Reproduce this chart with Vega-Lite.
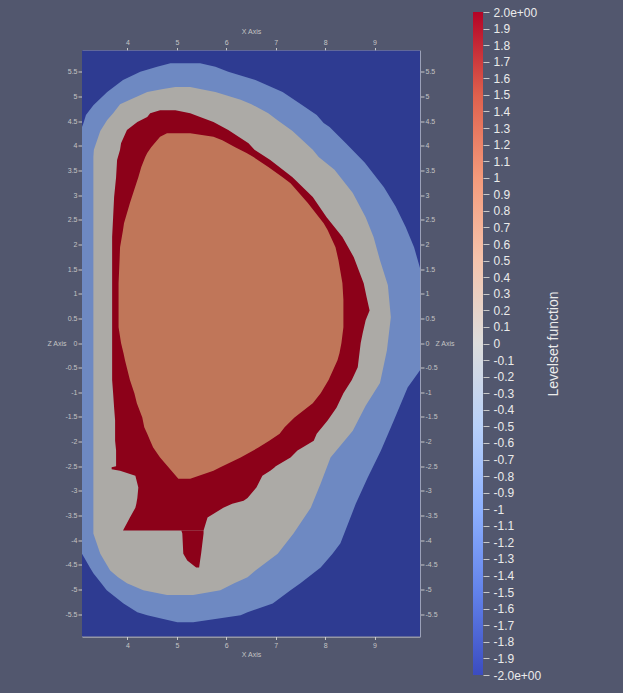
{
  "$schema": "https://vega.github.io/schema/vega-lite/v6.json",
  "background": "#52576e",
  "padding": {"left": 46, "top": 6, "right": 62, "bottom": 12},
  "center": true,
  "bounds": "flush",
  "spacing": 53,
  "config": {"view": {"stroke": null}, "font": "Liberation Sans"},
  "hconcat": [
    {
      "width": 338,
      "height": 586,
      "data": {"values": [
        {"piece": "bg", "level": -2, "z": 5.93, "xl": 3.08, "xr": 9.92},
        {"piece": "bg", "level": -2, "z": -5.95, "xl": 3.08, "xr": 9.92},

        {"piece": "LB", "level": -1, "z": 5.67, "xl": 4.87, "xr": 5.47},
        {"piece": "LB", "level": -1, "z": 5.60, "xl": 4.60, "xr": 5.78},
        {"piece": "LB", "level": -1, "z": 5.50, "xl": 4.26, "xr": 6.04},
        {"piece": "LB", "level": -1, "z": 5.33, "xl": 3.91, "xr": 6.59},
        {"piece": "LB", "level": -1, "z": 5.09, "xl": 3.59, "xr": 7.14},
        {"piece": "LB", "level": -1, "z": 4.82, "xl": 3.31, "xr": 7.54},
        {"piece": "LB", "level": -1, "z": 4.62, "xl": 3.16, "xr": 7.83},
        {"piece": "LB", "level": -1, "z": 4.46, "xl": 3.11, "xr": 7.97},
        {"piece": "LB", "level": -1, "z": 4.38, "xl": 3.08, "xr": 8.09},
        {"piece": "LB", "level": -1, "z": 4.05, "xl": 3.08, "xr": 8.42},
        {"piece": "LB", "level": -1, "z": 3.66, "xl": 3.08, "xr": 8.80},
        {"piece": "LB", "level": -1, "z": 3.16, "xl": 3.08, "xr": 9.19},
        {"piece": "LB", "level": -1, "z": 2.76, "xl": 3.08, "xr": 9.43},
        {"piece": "LB", "level": -1, "z": 2.35, "xl": 3.08, "xr": 9.63},
        {"piece": "LB", "level": -1, "z": 1.94, "xl": 3.08, "xr": 9.80},
        {"piece": "LB", "level": -1, "z": 1.52, "xl": 3.08, "xr": 9.92},
        {"piece": "LB", "level": -1, "z": -0.55, "xl": 3.08, "xr": 9.92},
        {"piece": "LB", "level": -1, "z": -0.90, "xl": 3.08, "xr": 9.67},
        {"piece": "LB", "level": -1, "z": -1.57, "xl": 3.08, "xr": 9.39},
        {"piece": "LB", "level": -1, "z": -2.18, "xl": 3.08, "xr": 9.13},
        {"piece": "LB", "level": -1, "z": -2.73, "xl": 3.08, "xr": 8.86},
        {"piece": "LB", "level": -1, "z": -3.26, "xl": 3.08, "xr": 8.62},
        {"piece": "LB", "level": -1, "z": -4.06, "xl": 3.08, "xr": 8.31},
        {"piece": "LB", "level": -1, "z": -4.27, "xl": 3.08, "xr": 8.15},
        {"piece": "LB", "level": -1, "z": -4.55, "xl": 3.24, "xr": 7.91},
        {"piece": "LB", "level": -1, "z": -4.67, "xl": 3.31, "xr": 7.76},
        {"piece": "LB", "level": -1, "z": -4.87, "xl": 3.47, "xr": 7.50},
        {"piece": "LB", "level": -1, "z": -5.01, "xl": 3.58, "xr": 7.30},
        {"piece": "LB", "level": -1, "z": -5.28, "xl": 3.92, "xr": 6.94},
        {"piece": "LB", "level": -1, "z": -5.46, "xl": 4.20, "xr": 6.43},
        {"piece": "LB", "level": -1, "z": -5.52, "xl": 4.40, "xr": 6.29},
        {"piece": "LB", "level": -1, "z": -5.58, "xl": 4.66, "xr": 5.88},
        {"piece": "LB", "level": -1, "z": -5.66, "xl": 5.01, "xr": 5.33},

        {"piece": "GR", "level": 0, "z": 5.19, "xl": 4.97, "xr": 5.27},
        {"piece": "GR", "level": 0, "z": 5.15, "xl": 4.72, "xr": 5.47},
        {"piece": "GR", "level": 0, "z": 5.09, "xl": 4.40, "xr": 5.78},
        {"piece": "GR", "level": 0, "z": 4.93, "xl": 4.05, "xr": 6.29},
        {"piece": "GR", "level": 0, "z": 4.84, "xl": 3.85, "xr": 6.51},
        {"piece": "GR", "level": 0, "z": 4.66, "xl": 3.71, "xr": 6.85},
        {"piece": "GR", "level": 0, "z": 4.52, "xl": 3.59, "xr": 7.03},
        {"piece": "GR", "level": 0, "z": 4.30, "xl": 3.45, "xr": 7.34},
        {"piece": "GR", "level": 0, "z": 3.92, "xl": 3.32, "xr": 7.75},
        {"piece": "GR", "level": 0, "z": 3.77, "xl": 3.31, "xr": 7.87},
        {"piece": "GR", "level": 0, "z": 3.51, "xl": 3.31, "xr": 8.19},
        {"piece": "GR", "level": 0, "z": 3.04, "xl": 3.31, "xr": 8.56},
        {"piece": "GR", "level": 0, "z": 2.55, "xl": 3.31, "xr": 8.82},
        {"piece": "GR", "level": 0, "z": 2.15, "xl": 3.31, "xr": 8.98},
        {"piece": "GR", "level": 0, "z": 1.68, "xl": 3.31, "xr": 9.11},
        {"piece": "GR", "level": 0, "z": 1.17, "xl": 3.31, "xr": 9.27},
        {"piece": "GR", "level": 0, "z": 0.52, "xl": 3.31, "xr": 9.33},
        {"piece": "GR", "level": 0, "z": -0.15, "xl": 3.31, "xr": 9.25},
        {"piece": "GR", "level": 0, "z": -0.81, "xl": 3.31, "xr": 9.11},
        {"piece": "GR", "level": 0, "z": -1.27, "xl": 3.31, "xr": 8.82},
        {"piece": "GR", "level": 0, "z": -1.78, "xl": 3.31, "xr": 8.56},
        {"piece": "GR", "level": 0, "z": -2.32, "xl": 3.31, "xr": 8.11},
        {"piece": "GR", "level": 0, "z": -2.85, "xl": 3.31, "xr": 7.91},
        {"piece": "GR", "level": 0, "z": -3.34, "xl": 3.31, "xr": 7.71},
        {"piece": "GR", "level": 0, "z": -3.86, "xl": 3.31, "xr": 7.36},
        {"piece": "GR", "level": 0, "z": -4.27, "xl": 3.45, "xr": 7.04},
        {"piece": "GR", "level": 0, "z": -4.61, "xl": 3.65, "xr": 6.59},
        {"piece": "GR", "level": 0, "z": -4.75, "xl": 3.81, "xr": 6.43},
        {"piece": "GR", "level": 0, "z": -4.87, "xl": 3.99, "xr": 6.16},
        {"piece": "GR", "level": 0, "z": -5.01, "xl": 4.32, "xr": 5.88},
        {"piece": "GR", "level": 0, "z": -5.11, "xl": 4.80, "xr": 5.33},

        {"piece": "RA", "level": 2, "z": 4.72, "xl": 4.66, "xr": 4.97},
        {"piece": "RA", "level": 2, "z": 4.66, "xl": 4.46, "xr": 5.27},
        {"piece": "RA", "level": 2, "z": 4.58, "xl": 4.40, "xr": 5.47},
        {"piece": "RA", "level": 2, "z": 4.48, "xl": 4.20, "xr": 5.74},
        {"piece": "RA", "level": 2, "z": 4.32, "xl": 3.99, "xr": 6.04},
        {"piece": "RA", "level": 2, "z": 4.05, "xl": 3.87, "xr": 6.45},
        {"piece": "RA", "level": 2, "z": 3.92, "xl": 3.85, "xr": 6.57},
        {"piece": "RA", "level": 2, "z": 3.71, "xl": 3.79, "xr": 6.89},
        {"piece": "RA", "level": 2, "z": 3.36, "xl": 3.77, "xr": 7.34},
        {"piece": "RA", "level": 2, "z": 2.96, "xl": 3.73, "xr": 7.75},
        {"piece": "RA", "level": 2, "z": 2.55, "xl": 3.71, "xr": 8.03},
        {"piece": "RA", "level": 2, "z": 2.15, "xl": 3.69, "xr": 8.35},
        {"piece": "RA", "level": 2, "z": 1.74, "xl": 3.69, "xr": 8.58},
        {"piece": "RA", "level": 2, "z": 1.21, "xl": 3.69, "xr": 8.78},
        {"piece": "RA", "level": 2, "z": 0.93, "xl": 3.69, "xr": 8.84},
        {"piece": "RA", "level": 2, "z": 0.66, "xl": 3.69, "xr": 8.90},
        {"piece": "RA", "level": 2, "z": 0.46, "xl": 3.69, "xr": 8.82},
        {"piece": "RA", "level": 2, "z": 0.20, "xl": 3.69, "xr": 8.76},
        {"piece": "RA", "level": 2, "z": 0.00, "xl": 3.69, "xr": 8.72},
        {"piece": "RA", "level": 2, "z": -0.49, "xl": 3.69, "xr": 8.66},
        {"piece": "RA", "level": 2, "z": -0.75, "xl": 3.69, "xr": 8.54},
        {"piece": "RA", "level": 2, "z": -1.02, "xl": 3.71, "xr": 8.37},
        {"piece": "RA", "level": 2, "z": -1.31, "xl": 3.73, "xr": 8.23},
        {"piece": "RA", "level": 2, "z": -1.57, "xl": 3.75, "xr": 8.05},
        {"piece": "RA", "level": 2, "z": -1.84, "xl": 3.75, "xr": 7.83},
        {"piece": "RA", "level": 2, "z": -1.98, "xl": 3.75, "xr": 7.77},
        {"piece": "RA", "level": 2, "z": -2.18, "xl": 3.77, "xr": 7.44},
        {"piece": "RA", "level": 2, "z": -2.32, "xl": 3.77, "xr": 7.30},
        {"piece": "RA", "level": 2, "z": -2.50, "xl": 3.77, "xr": 7.00},
        {"piece": "RA", "level": 2, "z": -2.52, "xl": 3.68, "xr": 6.98},
        {"piece": "RA", "level": 2, "z": -2.56, "xl": 3.68, "xr": 6.93},
        {"piece": "RA", "level": 2, "z": -2.59, "xl": 3.85, "xr": 6.89},
        {"piece": "RA", "level": 2, "z": -2.69, "xl": 4.16, "xr": 6.73},
        {"piece": "RA", "level": 2, "z": -2.93, "xl": 4.22, "xr": 6.61},
        {"piece": "RA", "level": 2, "z": -3.14, "xl": 4.20, "xr": 6.43},
        {"piece": "RA", "level": 2, "z": -3.20, "xl": 4.19, "xr": 6.35},
        {"piece": "RA", "level": 2, "z": -3.26, "xl": 4.18, "xr": 6.12},
        {"piece": "RA", "level": 2, "z": -3.34, "xl": 4.16, "xr": 5.94},
        {"piece": "RA", "level": 2, "z": -3.54, "xl": 4.05, "xr": 5.62},
        {"piece": "RA", "level": 2, "z": -3.80, "xl": 3.91, "xr": 5.54},

        {"piece": "RB", "level": 2, "z": -3.80, "xl": 5.09, "xr": 5.54},
        {"piece": "RB", "level": 2, "z": -3.86, "xl": 5.11, "xr": 5.54},
        {"piece": "RB", "level": 2, "z": -4.27, "xl": 5.13, "xr": 5.49},
        {"piece": "RB", "level": 2, "z": -4.41, "xl": 5.21, "xr": 5.47},
        {"piece": "RB", "level": 2, "z": -4.55, "xl": 5.39, "xr": 5.45},

        {"piece": "OR", "level": 1, "z": 4.25, "xl": 4.80, "xr": 5.27},
        {"piece": "OR", "level": 1, "z": 4.18, "xl": 4.66, "xr": 5.74},
        {"piece": "OR", "level": 1, "z": 4.11, "xl": 4.60, "xr": 5.92},
        {"piece": "OR", "level": 1, "z": 3.97, "xl": 4.48, "xr": 6.18},
        {"piece": "OR", "level": 1, "z": 3.85, "xl": 4.40, "xr": 6.41},
        {"piece": "OR", "level": 1, "z": 3.77, "xl": 4.36, "xr": 6.55},
        {"piece": "OR", "level": 1, "z": 3.57, "xl": 4.28, "xr": 6.85},
        {"piece": "OR", "level": 1, "z": 3.36, "xl": 4.22, "xr": 7.14},
        {"piece": "OR", "level": 1, "z": 3.24, "xl": 4.18, "xr": 7.30},
        {"piece": "OR", "level": 1, "z": 2.84, "xl": 4.05, "xr": 7.65},
        {"piece": "OR", "level": 1, "z": 2.43, "xl": 3.93, "xr": 7.97},
        {"piece": "OR", "level": 1, "z": 2.29, "xl": 3.91, "xr": 8.05},
        {"piece": "OR", "level": 1, "z": 1.94, "xl": 3.85, "xr": 8.21},
        {"piece": "OR", "level": 1, "z": 1.68, "xl": 3.84, "xr": 8.27},
        {"piece": "OR", "level": 1, "z": 1.21, "xl": 3.82, "xr": 8.35},
        {"piece": "OR", "level": 1, "z": 0.87, "xl": 3.82, "xr": 8.37},
        {"piece": "OR", "level": 1, "z": 0.32, "xl": 3.82, "xr": 8.37},
        {"piece": "OR", "level": 1, "z": 0.00, "xl": 3.87, "xr": 8.33},
        {"piece": "OR", "level": 1, "z": -0.21, "xl": 3.92, "xr": 8.29},
        {"piece": "OR", "level": 1, "z": -0.35, "xl": 3.95, "xr": 8.25},
        {"piece": "OR", "level": 1, "z": -0.75, "xl": 4.05, "xr": 8.07},
        {"piece": "OR", "level": 1, "z": -1.02, "xl": 4.14, "xr": 7.91},
        {"piece": "OR", "level": 1, "z": -1.22, "xl": 4.19, "xr": 7.75},
        {"piece": "OR", "level": 1, "z": -1.51, "xl": 4.30, "xr": 7.38},
        {"piece": "OR", "level": 1, "z": -1.71, "xl": 4.34, "xr": 7.18},
        {"piece": "OR", "level": 1, "z": -1.84, "xl": 4.40, "xr": 7.08},
        {"piece": "OR", "level": 1, "z": -1.98, "xl": 4.46, "xr": 6.87},
        {"piece": "OR", "level": 1, "z": -2.12, "xl": 4.52, "xr": 6.65},
        {"piece": "OR", "level": 1, "z": -2.32, "xl": 4.66, "xr": 6.29},
        {"piece": "OR", "level": 1, "z": -2.52, "xl": 4.83, "xr": 5.88},
        {"piece": "OR", "level": 1, "z": -2.59, "xl": 4.89, "xr": 5.74},
        {"piece": "OR", "level": 1, "z": -2.75, "xl": 5.03, "xr": 5.27}
      ]},
      "mark": {"type": "area", "orient": "horizontal", "interpolate": "linear"},
      "encoding": {
        "y": {"field": "z", "type": "quantitative", "scale": {"domain": [-5.95, 5.93], "nice": false, "zero": false}, "axis": null},
        "x": {"field": "xl", "type": "quantitative", "scale": {"domain": [3.08, 9.92], "nice": false, "zero": false}, "axis": null},
        "x2": {"field": "xr"},
        "color": {"field": "level", "type": "ordinal", "scale": {"domain": [-2, -1, 0, 1, 2], "range": ["#2e3b91", "#6e89c2", "#acaaa6", "#c07659", "#8c0119"]}, "legend": null}
      },
      "layer": [
        {
          "transform": [{"filter": "datum.piece == 'bg'"}],
          "mark": {"type": "area", "orient": "horizontal", "interpolate": "linear"},
          "encoding": {
            "y": {"field": "z", "type": "quantitative", "scale": {"domain": [-5.95, 5.93], "nice": false, "zero": false},
              "axis": {"orient": "left", "values": [-5.5,-5,-4.5,-4,-3.5,-3,-2.5,-2,-1.5,-1,-0.5,0,0.5,1,1.5,2,2.5,3,3.5,4,4.5,5,5.5],
                "labelExpr": "'' + datum.value", "grid": false, "domain": true, "domainColor": "#9aa0b8", "tickColor": "#c8c8c8", "tickSize": 4,
                "labelFontSize": 7, "labelColor": "#c4c4c4", "labelPadding": 1, "labelFont": "Liberation Sans",
                "title": "Z Axis", "titleFont": "Liberation Sans", "titleFontSize": 7, "titleFontWeight": "normal", "titleColor": "#c4c4c4",
                "titleAngle": 0, "titleAlign": "right", "titleBaseline": "middle", "titleX": -16, "titleY": 293}},
            "x": {"field": "xl", "type": "quantitative", "scale": {"domain": [3.08, 9.92], "nice": false, "zero": false},
              "axis": {"orient": "bottom", "values": [4,5,6,7,8,9], "grid": false, "domain": true, "domainColor": "#d8d8d8", "tickColor": "#c8c8c8", "tickSize": 3,
                "labelFontSize": 7, "labelColor": "#c4c4c4", "labelPadding": 2, "labelFlush": false, "labelFont": "Liberation Sans",
                "title": "X Axis", "titleFont": "Liberation Sans", "titleFontSize": 7, "titleFontWeight": "normal", "titleColor": "#c4c4c4",
                "titleBaseline": "middle", "titleY": 18}}
          }
        },
        {
          "transform": [{"filter": "datum.piece == 'LB'"}],
          "mark": {"type": "area", "orient": "horizontal", "interpolate": "linear"},
          "encoding": {
            "y": {"field": "z", "type": "quantitative", "scale": {"domain": [-5.95, 5.93], "nice": false, "zero": false},
              "axis": {"orient": "right", "values": [-5.5,-5,-4.5,-4,-3.5,-3,-2.5,-2,-1.5,-1,-0.5,0,0.5,1,1.5,2,2.5,3,3.5,4,4.5,5,5.5],
                "labelExpr": "'' + datum.value", "grid": false, "domain": true, "domainColor": "#9aa0b8", "tickColor": "#c8c8c8", "tickSize": 4,
                "labelFontSize": 7, "labelColor": "#c4c4c4", "labelPadding": 1, "labelFont": "Liberation Sans",
                "title": "Z Axis", "titleFont": "Liberation Sans", "titleFontSize": 7, "titleFontWeight": "normal", "titleColor": "#c4c4c4",
                "titleAngle": 0, "titleAlign": "left", "titleBaseline": "middle", "titleX": 15, "titleY": 293}},
            "x": {"field": "xl", "type": "quantitative", "scale": {"domain": [3.08, 9.92], "nice": false, "zero": false},
              "axis": {"orient": "top", "values": [4,5,6,7,8,9], "grid": false, "domain": true, "domainColor": "#d8d8d8", "tickColor": "#c8c8c8", "tickSize": 3,
                "labelFontSize": 7, "labelColor": "#c4c4c4", "labelPadding": 2, "labelFlush": false, "labelFont": "Liberation Sans",
                "title": "X Axis", "titleFont": "Liberation Sans", "titleFontSize": 7, "titleFontWeight": "normal", "titleColor": "#c4c4c4",
                "titleBaseline": "middle", "titleY": -19}}
          }
        },
        {"transform": [{"filter": "datum.piece == 'GR'"}], "mark": {"type": "area", "orient": "horizontal", "interpolate": "linear"}},
        {"transform": [{"filter": "datum.piece == 'RA'"}], "mark": {"type": "area", "orient": "horizontal", "interpolate": "linear"}},
        {"transform": [{"filter": "datum.piece == 'RB'"}], "mark": {"type": "area", "orient": "horizontal", "interpolate": "linear"}},
        {"transform": [{"filter": "datum.piece == 'OR'"}], "mark": {"type": "area", "orient": "horizontal", "interpolate": "linear"}}
      ],
      "resolve": {"axis": {"x": "independent", "y": "independent"}}
    },
    {
      "width": 10,
      "height": 663,
      "data": {"values": [{"lo": -2, "hi": 2}]},
      "mark": {"type": "rect", "color": {"gradient": "linear", "x1": 0, "y1": 1, "x2": 0, "y2": 0, "stops": [
        {"offset": 0, "color": "#3b4cc0"},
        {"offset": 0.125, "color": "#6282ea"},
        {"offset": 0.25, "color": "#8db0fe"},
        {"offset": 0.375, "color": "#b8d0f9"},
        {"offset": 0.5, "color": "#dddddd"},
        {"offset": 0.625, "color": "#f5c4ad"},
        {"offset": 0.75, "color": "#f49a7b"},
        {"offset": 0.875, "color": "#de604d"},
        {"offset": 1, "color": "#b40426"}
      ]}},
      "encoding": {
        "y": {"field": "lo", "type": "quantitative", "scale": {"domain": [-2, 2], "nice": false, "zero": false},
          "axis": {"orient": "right", "values": [-2,-1.9,-1.8,-1.7,-1.6,-1.5,-1.4,-1.3,-1.2,-1.1,-1,-0.9,-0.8,-0.7,-0.6,-0.5,-0.4,-0.3,-0.2,-0.1,0,0.1,0.2,0.3,0.4,0.5,0.6,0.7,0.8,0.9,1,1.1,1.2,1.3,1.4,1.5,1.6,1.7,1.8,1.9,2],
            "labelExpr": "datum.value == 2 ? '2.0e+00' : datum.value == -2 ? '-2.0e+00' : '' + datum.value",
            "grid": false, "domain": false, "tickColor": "#c8c8c8", "tickSize": 6, "labelOverlap": false, "labelFlush": false,
            "labelFontSize": 12, "labelColor": "#ebebeb", "labelPadding": 4, "labelFont": "Liberation Sans",
            "title": "Levelset function", "titleFont": "Liberation Sans", "titleFontSize": 14, "titleFontWeight": "normal", "titleColor": "#ebebeb",
            "titleAngle": 270, "titlePadding": 20}},
        "y2": {"field": "hi"}
      }
    }
  ]
}
